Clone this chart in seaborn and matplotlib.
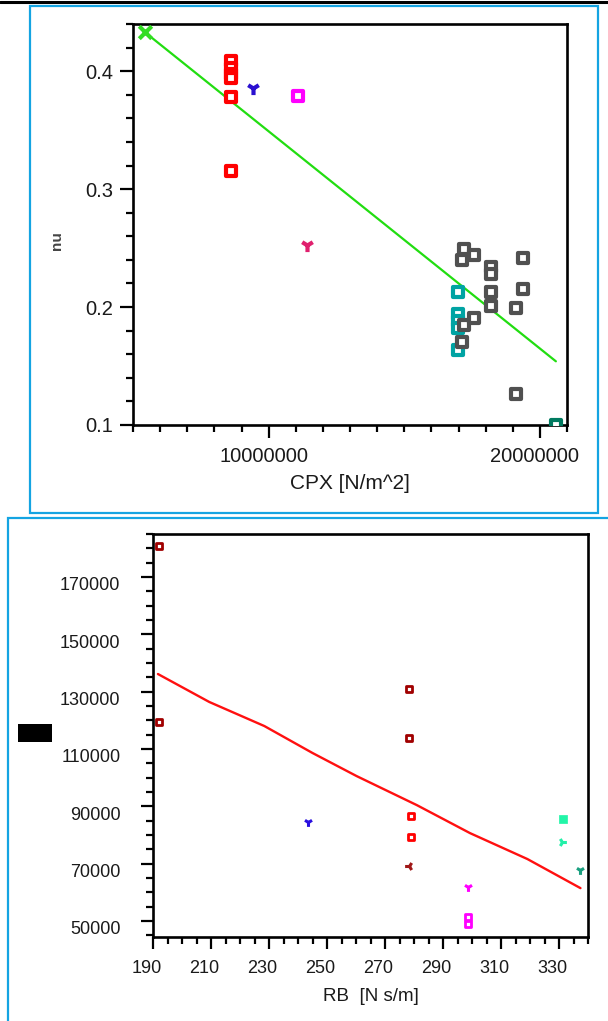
import matplotlib
matplotlib.use("Agg")
import matplotlib.pyplot as plt
from matplotlib.patches import Rectangle
from matplotlib.lines import Line2D
from matplotlib.ticker import MultipleLocator
from matplotlib.transforms import ScaledTranslation
import seaborn as sns

# ---- top panel data (CPX vs nu) ----
cpx_green = [5.44e6]
nu_green = [0.433]
cpx_red = [8.60e6, 8.60e6, 8.60e6, 8.60e6, 8.60e6, 8.60e6]
nu_red = [0.409, 0.403, 0.398, 0.394, 0.378, 0.315]
cpx_blue = [9.41e6]
nu_blue = [0.386]
cpx_magenta = [11.07e6]
nu_magenta = [0.379]
cpx_pink = [11.40e6]
nu_pink = [0.253]
cpx_teal = [16.99e6, 16.99e6, 16.99e6, 16.99e6, 16.99e6]
nu_teal = [0.213, 0.194, 0.188, 0.182, 0.164]
cpx_gray = [17.13e6, 17.13e6, 17.21e6, 17.21e6, 17.57e6, 17.57e6, 18.20e6, 18.20e6,
            18.20e6, 18.20e6, 19.12e6, 19.12e6, 19.38e6, 19.38e6]
nu_gray = [0.240, 0.170, 0.249, 0.185, 0.244, 0.191, 0.234, 0.228,
           0.213, 0.201, 0.199, 0.126, 0.242, 0.215]
cpx_dkgreen = [20.59e6]
nu_dkgreen = [0.100]
cpx_fit = [5.44e6, 20.59e6]
nu_fit = [0.433, 0.154]
top_xticks = [1e7, 2e7]
top_xtick_labels = ["10000000", "20000000"]
top_yticks = [0.1, 0.2, 0.3, 0.4]
top_ytick_labels = ["0.1", "0.2", "0.3", "0.4"]

# ---- bottom panel data (RB vs ?) ----
rb_dkred = [192.1, 192.1, 278.2, 278.2]
v_dkred = [180800, 119400, 130900, 113800]
rb_red = [278.9, 278.9]
v_red = [86600, 79300]
rb_brown = [278.2]
v_brown = [69100]
rb_blue = [243.3]
v_blue = [84500]
rb_mag_tri = [298.7]
v_mag_tri = [61800]
rb_mag_sq = [298.7, 298.7]
v_mag_sq = [51300, 48900]
rb_aqua_sq = [331.5]
v_aqua_sq = [85500]
rb_aqua_tri = [331.2]
v_aqua_tri = [77500]
rb_teal_tri = [337.4]
v_teal_tri = [67700]
rb_fit = [191.7, 209.4, 228.4, 245.0, 260.2, 281.0, 299.3, 319.1, 337.4]
v_fit = [136150, 126400, 118000, 108600, 100550, 90400, 80650, 71600, 61450]
bot_xticks = [190, 210, 230, 250, 270, 290, 310, 330]
bot_yticks = [50000, 70000, 90000, 110000, 130000, 150000, 170000]

sns.set_style("ticks")
plt.rcParams["font.family"] = ["Liberation Sans", "DejaVu Sans"]

W, H = 608, 1021
fig = plt.figure(figsize=(W / 100, H / 100), dpi=100)


def fx(px):
    return px / W


def fy(py):
    return 1 - py / H


def hollow(ax, x, y, c, s, lw):
    sns.scatterplot(x=x, y=y, marker="s", s=s, color=c, facecolor="white",
                    edgecolor=c, linewidth=lw, ax=ax, zorder=3)


def tri(ax, x, y, c, s, lw, m="1"):
    sns.scatterplot(x=x, y=y, marker=m, s=s, color=c, linewidth=lw, ax=ax, zorder=3)


def style_axes(ax, fs, maj, mnr):
    for sp in ax.spines.values():
        sp.set_visible(True)
        sp.set_linewidth(1.9)
        sp.set_color("black")
    ax.tick_params(which="major", direction="out", length=maj, width=1.6,
                   labelsize=fs, labelcolor="#1a1a1a", color="black")
    ax.tick_params(which="minor", direction="out", length=mnr, width=1.6, color="black")


# ---- top axes ----
ax1 = fig.add_axes([fx(133), fy(425), fx(567) - fx(133), fy(24) - fy(425)])
sns.lineplot(x=cpx_fit, y=nu_fit, color="#22dd11", linewidth=1.6, ax=ax1, estimator=None)
tri(ax1, cpx_green, nu_green, "#33dd22", 80, 3.0, m="x")
hollow(ax1, cpx_red, nu_red, "#ff0000", 62, 3.0)
tri(ax1, cpx_blue, nu_blue, "#2a10d0", 90, 3.0)
hollow(ax1, cpx_magenta, nu_magenta, "#ff00ff", 62, 3.0)
tri(ax1, cpx_pink, nu_pink, "#e0206e", 90, 3.0)
hollow(ax1, cpx_teal, nu_teal, "#00a3a3", 62, 3.0)
hollow(ax1, cpx_gray, nu_gray, "#505050", 62, 3.0)
hollow(ax1, cpx_dkgreen, nu_dkgreen, "#007a60", 62, 3.0)
ax1.set_xlim(5.0e6, 21.0e6)
ax1.set_ylim(0.1, 0.44)
ax1.set_xticks(top_xticks)
ax1.set_xticklabels(top_xtick_labels)
ax1.set_yticks(top_yticks)
ax1.set_yticklabels(top_ytick_labels)
ax1.xaxis.set_minor_locator(MultipleLocator(1e6))
ax1.yaxis.set_minor_locator(MultipleLocator(0.02))
style_axes(ax1, 14.5, 9.5, 5)
ax1.tick_params(axis="x", pad=6)
ax1.tick_params(axis="y", pad=5)
ax1.set_xlabel("CPX [N/m^2]", fontsize=15, color="#1a1a1a", labelpad=6)
ax1.set_ylabel("")
for lbl in ax1.get_xticklabels():
    lbl.set_transform(lbl.get_transform() + ScaledTranslation(-0.05, 0, fig.dpi_scale_trans))
fig.text(fx(57), fy(241), "nu", rotation=90, fontsize=11, color="#444444",
         ha="center", va="center", fontweight="bold")

# ---- bottom axes ----
ax2 = fig.add_axes([fx(153), fy(937), fx(588) - fx(153), fy(534) - fy(937)])
sns.lineplot(x=rb_fit, y=v_fit, color="#ff1010", linewidth=1.7, ax=ax2, estimator=None, sort=False)
hollow(ax2, rb_dkred, v_dkred, "#a00000", 20, 2.0)
hollow(ax2, rb_red, v_red, "#ff0000", 20, 2.0)
tri(ax2, rb_brown, v_brown, "#a01818", 40, 2.2, m="3")
tri(ax2, rb_blue, v_blue, "#2a10e0", 40, 2.2)
tri(ax2, rb_mag_tri, v_mag_tri, "#ff00ff", 40, 2.2)
hollow(ax2, rb_mag_sq, v_mag_sq, "#ff00ff", 20, 2.0)
sns.scatterplot(x=rb_aqua_sq, y=v_aqua_sq, marker="s", s=40, color="#22f5a8",
                edgecolor="#22f5a8", ax=ax2, zorder=3)
tri(ax2, rb_aqua_tri, v_aqua_tri, "#22f0a8", 40, 2.2, m="4")
tri(ax2, rb_teal_tri, v_teal_tri, "#1aa080", 40, 2.2)
ax2.set_xlim(190, 340)
ax2.set_ylim(44400, 185000)
ax2.set_xticks(bot_xticks)
ax2.set_yticks(bot_yticks)
ax2.xaxis.set_minor_locator(MultipleLocator(5))
ax2.yaxis.set_minor_locator(MultipleLocator(5000))
style_axes(ax2, 13, 8.5, 5)
ax2.tick_params(axis="x", pad=8)
ax2.tick_params(axis="y", pad=15)
ax2.set_xlabel("RB  [N s/m]", fontsize=13.5, color="#1a1a1a", labelpad=8)
ax2.set_ylabel("")
for lbl in ax2.get_xticklabels():
    lbl.set_transform(lbl.get_transform() + ScaledTranslation(-0.065, 0, fig.dpi_scale_trans))
for lbl in ax2.get_yticklabels():
    lbl.set_transform(lbl.get_transform() + ScaledTranslation(0, -0.07, fig.dpi_scale_trans))

# ---- frames and decorations ----
blue = "#14a4e2"
fig.patches.append(Rectangle((fx(30), fy(513)), fx(598) - fx(30), fy(6) - fy(513),
                             transform=fig.transFigure, fill=False, edgecolor=blue, linewidth=1.6))
fig.patches.append(Rectangle((fx(8), fy(1030)), fx(620) - fx(8), fy(518) - fy(1030),
                             transform=fig.transFigure, fill=False, edgecolor=blue, linewidth=1.6))
fig.patches.append(Rectangle((fx(18), fy(742)), fx(52) - fx(18), fy(724) - fy(742),
                             transform=fig.transFigure, facecolor="black", edgecolor="none"))
fig.lines.append(Line2D([0, 1], [fy(2.5), fy(2.5)], transform=fig.transFigure,
                        color="black", linewidth=2.2))

fig.savefig("out.png", dpi=100)
